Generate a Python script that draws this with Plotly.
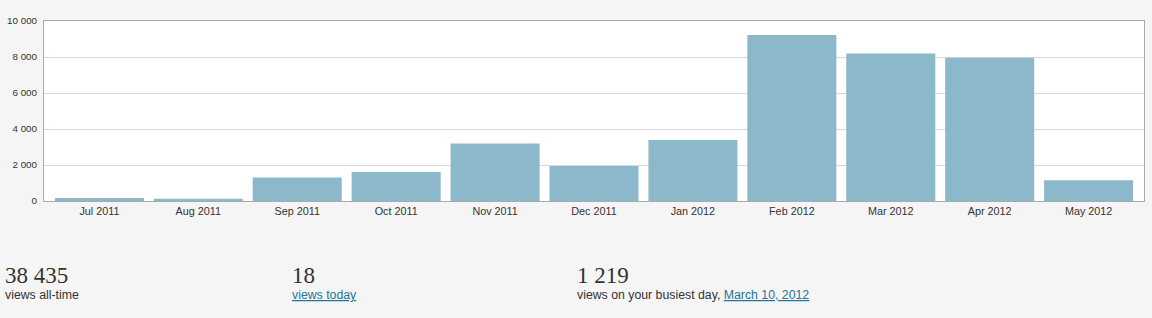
import plotly.graph_objects as go

months = ["Jul 2011", "Aug 2011", "Sep 2011", "Oct 2011", "Nov 2011", "Dec 2011",
          "Jan 2012", "Feb 2012", "Mar 2012", "Apr 2012", "May 2012"]
views = [170, 120, 1300, 1610, 3200, 1940, 3390, 9220, 8200, 7960, 1150]

y_ticks = [0, 2000, 4000, 6000, 8000, 10000]

stat_values = ["38 435", "18", "1 219"]
stat_labels = ["views all-time", "views today", "views on your busiest day, "]
busiest_date = "March 10, 2012"

fig = go.Figure(go.Bar(
    x=list(range(len(months))), y=views,
    marker=dict(color="#8cb8cc", line=dict(width=0)),
    hovertext=months, hoverinfo="text+y",
))

fig.update_layout(
    width=1152, height=318,
    margin=dict(l=43, r=7, t=21, b=117),
    paper_bgcolor="#f5f5f5",
    plot_bgcolor="#ffffff",
    bargap=0.1,
    separators=". ",
    showlegend=False,
    font=dict(family="Liberation Sans, Arial, sans-serif", size=10, color="#333333"),
    xaxis=dict(
        range=[-0.56, len(months) - 0.44],
        tickvals=list(range(len(months))), ticktext=months,
        showline=True, linecolor="#aaaaaa", linewidth=1, mirror=True,
        showgrid=False, zeroline=False, ticks="",
        tickfont=dict(size=10.8, color="#333333"),
        fixedrange=True,
    ),
    yaxis=dict(
        range=[0, 10000], tickvals=y_ticks, tickformat=",d",
        showline=True, linecolor="#aaaaaa", linewidth=1, mirror=True,
        showgrid=True, gridcolor="#d9d9d9", gridwidth=1,
        zeroline=False, ticks="", ticklabelstandoff=4,
        tickfont=dict(size=9.8, color="#333333"), fixedrange=True,
    ),
)

xs = [2, 289, 575]
for i, x in enumerate(xs):
    fig.add_annotation(
        xref="paper", yref="paper",
        x=(x - 43) / (1152 - 50), y=1 - (261 - 21) / 180,
        xanchor="left", yanchor="top", showarrow=False,
        text=stat_values[i],
        font=dict(family="Liberation Serif, Georgia, serif", size=23, color="#333333"),
    )

link = '<span style="color:#21759b;text-decoration:underline">{}</span>'
label_texts = [
    stat_labels[0],
    link.format(stat_labels[1]),
    stat_labels[2] + link.format(busiest_date),
]
for i, x in enumerate(xs):
    fig.add_annotation(
        xref="paper", yref="paper",
        x=(x - 43) / (1152 - 50), y=1 - (286 - 21) / 180,
        xanchor="left", yanchor="top", showarrow=False,
        text=label_texts[i],
        font=dict(family="Liberation Sans, Arial, sans-serif", size=12.3, color="#333333"),
    )

fig.write_html("out.html")
